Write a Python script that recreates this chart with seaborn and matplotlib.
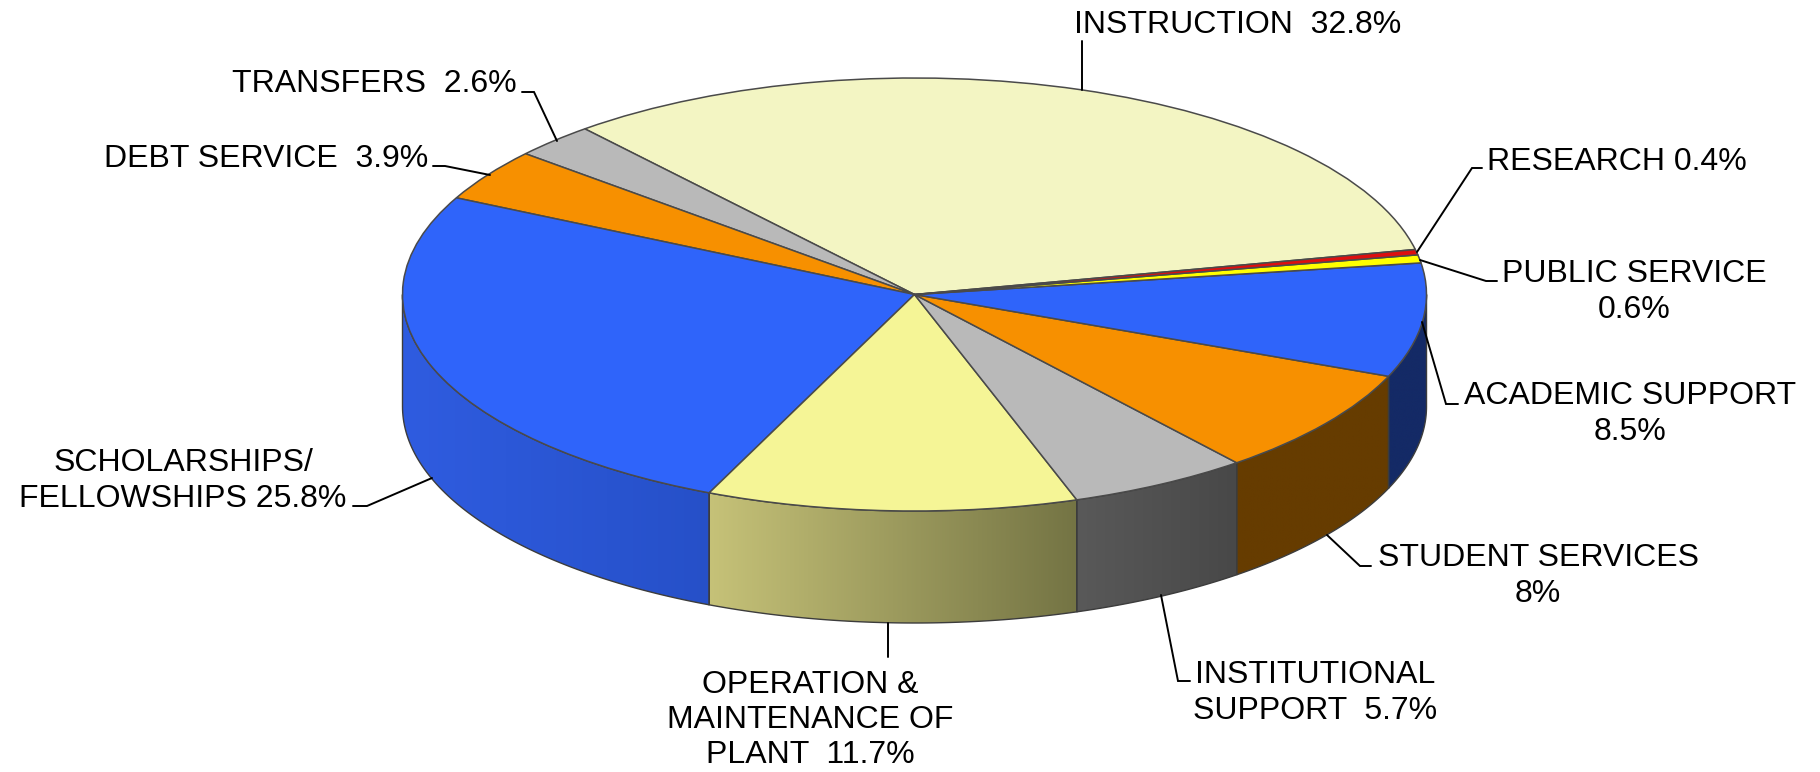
import numpy as np
import matplotlib
matplotlib.use("Agg")
import matplotlib.pyplot as plt
import seaborn as sns
from matplotlib.colors import LinearSegmentedColormap
from matplotlib.patches import Polygon
from matplotlib.transforms import Affine2D

categories = ["INSTRUCTION", "TRANSFERS", "DEBT SERVICE", "SCHOLARSHIPS/FELLOWSHIPS",
              "OPERATION & MAINTENANCE OF PLANT", "INSTITUTIONAL SUPPORT",
              "STUDENT SERVICES", "ACADEMIC SUPPORT", "PUBLIC SERVICE", "RESEARCH"]
values = [32.8, 2.6, 3.9, 25.8, 11.7, 5.7, 8.0, 8.5, 0.6, 0.4]
top_colors = ["#F3F5C3", "#B9B9B9", "#F79000", "#2F64FA", "#F5F596",
              "#B9B9B9", "#F79000", "#2F64FA", "#FFFF00", "#DD0F0F"]
# left and right colour of the side wall, front slices only
side_colors = {
    "SCHOLARSHIPS/FELLOWSHIPS": ("#2F5CE0", "#2650C8"),
    "OPERATION & MAINTENANCE OF PLANT": ("#C6C278", "#747444"),
    "INSTITUTIONAL SUPPORT": ("#595959", "#484848"),
    "STUDENT SERVICES": ("#663C00", "#663C00"),
    "ACADEMIC SUPPORT": ("#142A66", "#142A66"),
}
start_angle = 12

# text, x, y, alignment
label_text = [
    ("INSTRUCTION  32.8%", 1238, 25, "center"),
    ("RESEARCH 0.4%", 1487, 162, "left"),
    ("PUBLIC SERVICE\n0.6%", 1634, 292, "center"),
    ("ACADEMIC SUPPORT\n8.5%", 1630, 414, "center"),
    ("STUDENT SERVICES\n8%", 1538, 576, "center"),
    ("INSTITUTIONAL\nSUPPORT  5.7%", 1193, 693, "left"),
    ("OPERATION &\nMAINTENANCE OF\nPLANT  11.7%", 810, 720, "center"),
    ("SCHOLARSHIPS/\nFELLOWSHIPS 25.8%", 183, 481, "center"),
    ("DEBT SERVICE  3.9%", 266, 159, "center"),
    ("TRANSFERS  2.6%", 374, 84, "center"),
]
leaders = [
    [(1082, 41), (1082, 90)],
    [(1417, 252), (1472, 168), (1482, 168)],
    [(1420, 260), (1486, 281), (1497, 281)],
    [(1422, 322), (1446, 404), (1458, 404)],
    [(1327, 535), (1360, 566), (1371, 566)],
    [(1161, 595), (1178, 681), (1190, 681)],
    [(888, 623), (888, 657)],
    [(432, 478), (367, 506), (353, 506)],
    [(433, 166), (445, 166), (490, 175)],
    [(522, 92), (534, 92), (557, 141)],
]

# pie geometry on the canvas, pixels
W, H = 1820, 772
cx, cy, rx, ry, depth = 914.5, 294.5, 512, 216.5, 112

sns.set_theme(style="white")
plt.rcParams["font.family"] = ["Liberation Sans", "DejaVu Sans"]

fig = plt.figure(figsize=(W / 100, H / 100), dpi=100)
ax = fig.add_axes([0, 0, 1, 1])
xlim = (-cx / rx, (W - cx) / rx)
ylim = ((cy - H) / ry, cy / ry)
drop = depth / ry

ax.pie(values, colors=top_colors, startangle=start_angle, counterclock=True,
       wedgeprops=dict(edgecolor="#4a4a4a", linewidth=1.1, zorder=5))

# side walls
edges = start_angle + np.cumsum([0] + values) * 3.6
for name, a0, a1 in zip(categories, edges[:-1], edges[1:]):
    if name not in side_colors:
        continue
    a0, a1 = max(a0, 180), min(a1, 360)
    t = np.radians(np.linspace(a0, a1, 80))
    x, y = np.cos(t), np.sin(t)
    outline = np.vstack([np.column_stack([x, y]),
                         np.column_stack([x[::-1], y[::-1] - drop])])
    cmap = LinearSegmentedColormap.from_list(name, side_colors[name])
    img = ax.imshow(np.linspace(0, 1, 256)[None, :], cmap=cmap, aspect="auto",
                    extent=(x.min(), x.max(), (y - drop).min(), y.max()),
                    interpolation="bilinear", zorder=2)
    wall = Polygon(outline, closed=True, facecolor="none", edgecolor="#3c3c3c",
                   linewidth=1.0, zorder=3)
    ax.add_patch(wall)
    img.set_clip_path(wall)

ax.set_aspect("auto")
ax.set_xlim(*xlim)
ax.set_ylim(*ylim)
ax.axis("off")

# labels and leaders are placed in canvas pixels
px = Affine2D().scale(1 / W, -1 / H).translate(0, 1) + fig.transFigure
for pts in leaders:
    xs, ys = zip(*pts)
    ax.plot(xs, ys, color="black", lw=1.4, transform=px, zorder=6,
            solid_joinstyle="miter", clip_on=False)
for txt, x, y, ha in label_text:
    ax.text(x, y, txt, transform=px, ha=ha, va="center", multialignment="center",
            fontsize=23, color="black", linespacing=1.23)

fig.savefig("out.png", dpi=100, facecolor="white")
